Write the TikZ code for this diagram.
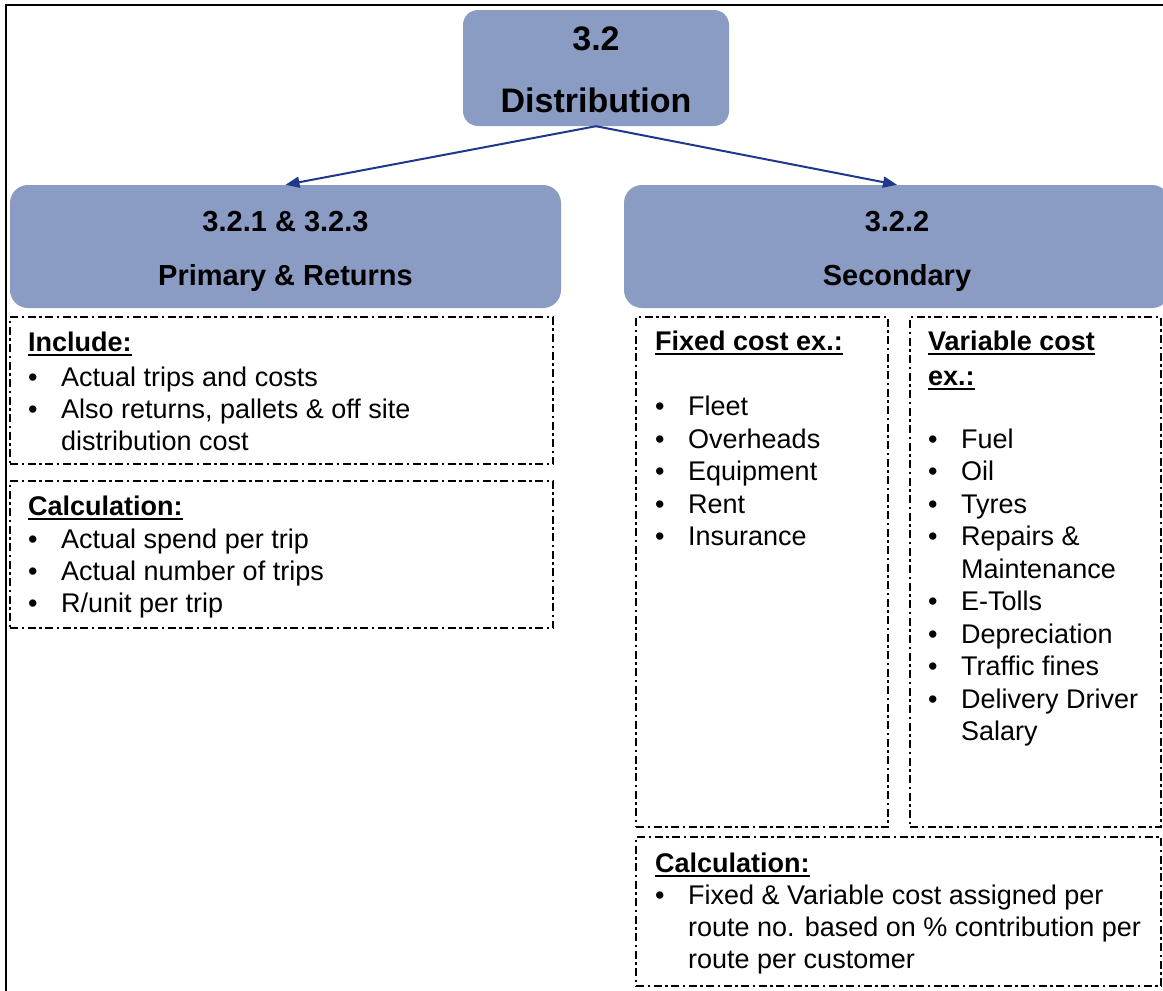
\documentclass[tikz,border=0pt]{standalone}
\usepackage{fontspec}
\setmainfont{Liberation Sans}
\usetikzlibrary{arrows.meta}

\definecolor{boxfill}{RGB}{138,155,196}
\definecolor{linkblue}{RGB}{32,56,140}

% bullet column and its empty counterpart for wrapped lines
\newcommand\itembul{\makebox[33pt][l]{•}}
\newcommand\itemgap{\hspace*{33pt}}
% bold heading with a thick underline
\newcommand\ulhead[1]{\setbox0\hbox{\bfseries #1}\rlap{\rule[-4.5pt]{\wd0}{1.7pt}}\box0}

\begin{document}
\begin{tikzpicture}[x=1pt,y=-1pt,
  headbox/.style={fill=boxfill, draw=none, rounded corners=18pt, inner sep=0pt},
  toptext/.style={font=\bfseries\fontsize{34pt}{40pt}\selectfont, inner sep=0pt, anchor=base},
  headtext/.style={font=\bfseries\fontsize{29pt}{34pt}\selectfont, inner sep=0pt, anchor=base},
  bodytext/.style={font=\fontsize{27pt}{32pt}\selectfont, inner sep=0pt, anchor=base west},
  panel/.style={draw=black, line width=1.8pt, dash pattern=on 8pt off 3.5pt on 2.5pt off 3.5pt, inner sep=0pt},
  link/.style={draw=linkblue, line width=2pt, -{Triangle[length=14pt,width=11pt]}}
]
\useasboundingbox (0,0) rectangle (1163,991);
\clip (0,0) rectangle (1163,991);

% outer frame (top and left edges)
\draw[line width=2pt] (6,1000) -- (6,5) -- (1170,5);

% heading boxes
\node[headbox, rounded corners=15pt, minimum width=266pt, minimum height=116pt] (dist) at (596,68) {};
\node[headbox, minimum width=551pt, minimum height=123pt] (prim) at (285.5,246.5) {};
\node[headbox, minimum width=546pt, minimum height=123pt] (sec) at (897,246.5) {};

\node[toptext] (dist-a) at (596,50) {3.2};
\node[toptext] (dist-b) at (596,112) {Distribution};
\node[headtext] (prim-a) at (285.5,231) {3.2.1 \& 3.2.3};
\node[headtext] (prim-b) at (285.5,285) {Primary \& Returns};
\node[headtext] (sec-a) at (897,231) {3.2.2};
\node[headtext] (sec-b) at (897,285) {Secondary};

% connectors
\draw[link] (dist.south) -- (prim.north);
\draw[link] (dist.south) -- (sec.north);

% dash-dot panels
\node[panel, minimum width=543pt, minimum height=147pt] (incl) at (281.5,390.5) {};
\node[panel, minimum width=543pt, minimum height=147pt] (calcl) at (281.5,554.5) {};
\node[panel, minimum width=252pt, minimum height=510pt] (fixed) at (762,572) {};
\node[panel, minimum width=251pt, minimum height=510pt] (var) at (1035.5,572) {};
\node[panel, minimum width=525pt, minimum height=149pt] (calcr) at (898.5,911.5) {};

% panel contents
\foreach \lineY/\lineT [count=\i] in {
  351/{\ulhead{Include:}},
  386/{\itembul Actual trips and costs},
  418/{\itembul Also returns, pallets \& off site},
  450/{\itemgap distribution cost}}
  \node[bodytext] (incl-\i) at (28,\lineY) {\lineT};

\foreach \lineY/\lineT [count=\i] in {
  515/{\ulhead{Calculation:}},
  548/{\itembul Actual spend per trip},
  580/{\itembul Actual number of trips},
  612/{\itembul R/unit per trip}}
  \node[bodytext] (calcl-\i) at (28,\lineY) {\lineT};

\foreach \lineY/\lineT [count=\i] in {
  350/{\ulhead{Fixed cost ex.:}},
  415/{\itembul Fleet},
  448/{\itembul Overheads},
  480/{\itembul Equipment},
  513/{\itembul Rent},
  545/{\itembul Insurance}}
  \node[bodytext] (fixed-\i) at (655,\lineY) {\lineT};

\foreach \lineY/\lineT [count=\i] in {
  350/{\ulhead{Variable cost}},
  385/{\ulhead{ex.:}},
  448/{\itembul Fuel},
  480/{\itembul Oil},
  513/{\itembul Tyres},
  545/{\itembul Repairs \&},
  578/{\itemgap Maintenance},
  610/{\itembul E-Tolls},
  643/{\itembul Depreciation},
  675/{\itembul Traffic fines},
  708/{\itembul Delivery Driver},
  740/{\itemgap Salary}}
  \node[bodytext] (var-\i) at (928,\lineY) {\lineT};

\foreach \lineY/\lineT [count=\i] in {
  872/{\ulhead{Calculation:}},
  904/{\itembul Fixed \& Variable cost assigned per},
  936/{\itemgap route no. based on \% contribution per},
  968/{\itemgap route per customer}}
  \node[bodytext] (calcr-\i) at (655,\lineY) {\lineT};

\end{tikzpicture}
\end{document}
